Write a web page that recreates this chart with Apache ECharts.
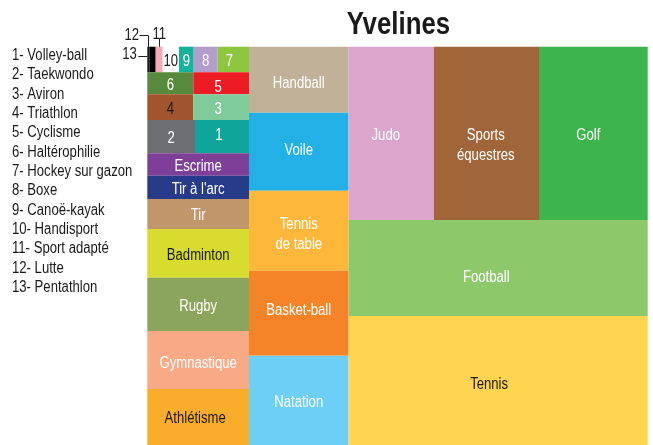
<!DOCTYPE html>
<html>
<head>
<meta charset="utf-8">
<script src="https://cdn.jsdelivr.net/npm/echarts@6/dist/echarts.min.js"></script>
<style>html,body{margin:0;padding:0;background:#fff}#c{width:653px;height:445px}</style>
</head>
<body>
<div id="c"></div>
<script>
// ---------------- DATA ----------------
const chartTitle = 'Yvelines';
// Small federations, numbered 1..13 in the legend
const smallNames = ['Volley-ball','Taekwondo','Aviron','Triathlon','Cyclisme','Haltérophilie','Hockey sur gazon','Boxe','Canoë-kayak','Handisport','Sport adapté','Lutte','Pentathlon'];
const smallValues = [1798, 1588, 1431, 1182, 1225, 1012, 801, 614, 376, 417, 179, 164, 51];
// grouping of the small block (legend numbers), top row to bottom row
const smallRows = [[13, 12, 11, 10, 9, 8, 7], [6, 5], [4, 3], [2, 1]];
// first column (below the small block)
const col1Names = ['Escrime', "Tir à l'arc", 'Tir', 'Badminton', 'Rugby', 'Gymnastique', 'Athlétisme'];
const col1Values = [2278, 2370, 3051, 4953, 5421, 5899, 5695];
// second column
const col2Names = ['Handball', 'Voile', 'Tennis de table', 'Basket-ball', 'Natation'];
const col2Values = [6567, 7761, 7960, 8458, 8885];
// third column
const col3TopNames = ['Judo', 'Sports équestres', 'Golf'];
const col3TopValues = [14817, 18197, 18838];
const col3Names = ['Football', 'Tennis'];
const col3Values = [28723, 38597];

// ---------------- STYLE ----------------
const FONT = '"Liberation Sans", Arial, Helvetica, sans-serif';
const NARROW = 0.82; // horizontal condensing of the text
const TEXT_DY = 2;   // baseline correction for labels
const cellColors = {
  'Volley-ball': '#10a59b', 'Taekwondo': '#6d6e71', 'Aviron': '#80cb9c', 'Triathlon': '#a0552c',
  'Cyclisme': '#ed1c24', 'Haltérophilie': '#578a3d', 'Hockey sur gazon': '#8dc63f', 'Boxe': '#b29dcb',
  'Canoë-kayak': '#15b39b', 'Handisport': '#ffffff', 'Sport adapté': '#f7a8b0', 'Lutte': '#000000',
  'Pentathlon': '#1a1a1a',
  'Escrime': '#7d3f97', "Tir à l'arc": '#283a8a', 'Tir': '#c2966b', 'Badminton': '#d7dc2f',
  'Rugby': '#8ca55c', 'Gymnastique': '#f8a985', 'Athlétisme': '#f9ad2a',
  'Handball': '#c1b198', 'Voile': '#22b0e6', 'Tennis de table': '#fdb83b', 'Basket-ball': '#f58428',
  'Natation': '#6dcff6',
  'Judo': '#dba5cc', 'Sports équestres': '#a1653a', 'Golf': '#3db54a', 'Football': '#8dc96a', 'Tennis': '#fed451'
};
const darkLabel = {'Badminton': 1, 'Athlétisme': 1, 'Tennis': 1, 'Handisport': 1, 'Triathlon': 1};
const wrapLabel = {'Sports équestres': 'Sports\néquestres', 'Tennis de table': 'Tennis\nde table'};
const labelOffset = {
  'Judo': [-5.5, 0.5], 'Sports équestres': [-0.7, 10.5], 'Golf': [-5, 0.5],
  'Football': [-11.8, 8], 'Tennis': [-9, 2.3], 'Voile': [0, -3.5], 'Basket-ball': [0, -4.4],
  'Handball': [0, 2], 'Gymnastique': [0, 2], 'Athlétisme': [-3, 0], 'Tennis de table': [0, 2],
  'Volley-ball': [-3, -3], 'Aviron': [-3, 0], 'Cyclisme': [-3, 2], 'Hockey sur gazon': [-4, 0]
};
const callouts = {
  'Pentathlon': {text: '13', type: 'left'},
  'Lutte': {text: '12', type: 'upleft'},
  'Sport adapté': {text: '11', type: 'up'}
};

// ---------------- HIERARCHY + LAYOUT (from values) ----------------
function leaf(name, value, label) { return {name: name, value: value, label: label}; }
function group(dir, children) {
  return {dir: dir, children: children, value: children.reduce(function (s, c) { return s + c.value; }, 0)};
}
const smallBlock = group('y', smallRows.map(function (r) {
  return group('x', r.map(function (n) { return leaf(smallNames[n - 1], smallValues[n - 1], String(n)); }));
}));
const tree = group('x', [
  group('y', [smallBlock].concat(col1Names.map(function (n, i) { return leaf(n, col1Values[i]); }))),
  group('y', col2Names.map(function (n, i) { return leaf(n, col2Values[i]); })),
  group('y', [group('x', col3TopNames.map(function (n, i) { return leaf(n, col3TopValues[i]); }))]
    .concat(col3Names.map(function (n, i) { return leaf(n, col3Values[i]); })))
]);
const cells = [];
function layout(node, x0, y0, x1, y1) {
  if (!node.children) {
    cells.push({name: node.name, label: node.label, value: [x0, y0, x1, y1, node.value]});
    return;
  }
  let pos = node.dir === 'x' ? x0 : y0;
  const span = node.dir === 'x' ? x1 - x0 : y1 - y0;
  node.children.forEach(function (c) {
    const d = span * c.value / node.value;
    if (node.dir === 'x') layout(c, pos, y0, pos + d, y1);
    else layout(c, x0, pos, x1, pos + d);
    pos += d;
  });
}
layout(tree, 0, 0, 1, 1);

function textEl(text, x, y, align, fill) {
  return {type: 'text', x: x, y: y + TEXT_DY, scaleX: NARROW, z2: 10, style: {
    text: text, x: 0, y: 0, align: align, verticalAlign: 'middle',
    fill: fill, fontSize: 16, fontFamily: FONT, lineHeight: 20
  }};
}

function renderItem(params, api) {
  const c = cells[params.dataIndex];
  const p0 = api.coord([api.value(0), api.value(1)]);
  const p1 = api.coord([api.value(2), api.value(3)]);
  const x = p0[0], y = p0[1], w = p1[0] - p0[0], h = p1[1] - p0[1];
  const kids = [{type: 'rect', shape: {x: x, y: y, width: w, height: h}, style: {fill: cellColors[c.name]}}];
  const co = callouts[c.name];
  if (!co) {
    const off = labelOffset[c.name] || [0, 0];
    const text = c.label !== undefined ? c.label : (wrapLabel[c.name] || c.name);
    kids.push(textEl(text, x + w / 2 + off[0], y + h / 2 + off[1], 'center',
      darkLabel[c.name] ? '#1a1a1a' : '#ffffff'));
  } else {
    const ls = {stroke: '#231f20', lineWidth: 1, fill: null};
    if (co.type === 'left') {
      const ly = Math.round(y + 9.5) + 0.5;
      kids.push({type: 'line', shape: {x1: x - 9, y1: ly, x2: x, y2: ly}, style: ls});
      kids.push(textEl(co.text, x - 10.5, ly - 3.5, 'right', '#1a1a1a'));
    } else if (co.type === 'upleft') {
      const lx = Math.round(x) - 0.5, ty = Math.round(y - 12) + 0.5;
      kids.push({type: 'polyline', shape: {points: [[lx, y], [lx, ty], [lx - 9, ty]]}, style: ls});
      kids.push(textEl(co.text, lx - 9.5, ty - 1.7, 'right', '#1a1a1a'));
    } else {
      const lx = Math.round(x + w / 2) + 0.5;
      kids.push({type: 'line', shape: {x1: lx, y1: y, x2: lx, y2: y - 8.5}, style: ls});
      kids.push(textEl(co.text, x + w / 2, y - 13.7, 'center', '#1a1a1a'));
    }
  }
  return {type: 'group', children: kids};
}

const chart = echarts.init(document.getElementById('c'), null, {renderer: 'canvas'});
chart.setOption({
  animation: false,
  backgroundColor: '#ffffff',
  grid: {left: 147.3, top: 46.7, right: 5.3, bottom: 0},
  xAxis: {type: 'value', min: 0, max: 1, show: false},
  yAxis: {type: 'value', min: 0, max: 1, inverse: true, show: false},
  graphic: [
    {type: 'text', x: 398.5, y: 25.5, scaleX: NARROW, style: {text: chartTitle, x: 0, y: 0, align: 'center', verticalAlign: 'middle',
      fontSize: 31.5, fontWeight: 'bold', fontFamily: FONT, fill: '#1a1a1a'}},
    {type: 'text', x: 12, y: 45.9, scaleX: NARROW, style: {
      text: smallNames.map(function (n, i) { return (i + 1) + '- ' + n; }).join('\n'),
      x: 0, y: 0, fontSize: 16, fontFamily: FONT, lineHeight: 19.33, fill: '#1a1a1a', verticalAlign: 'top'}}
  ],
  series: [{
    type: 'custom',
    clip: false,
    silent: true,
    renderItem: renderItem,
    data: cells.map(function (c) { return {name: c.name, value: c.value}; })
  }]
});
</script>
</body>
</html>
